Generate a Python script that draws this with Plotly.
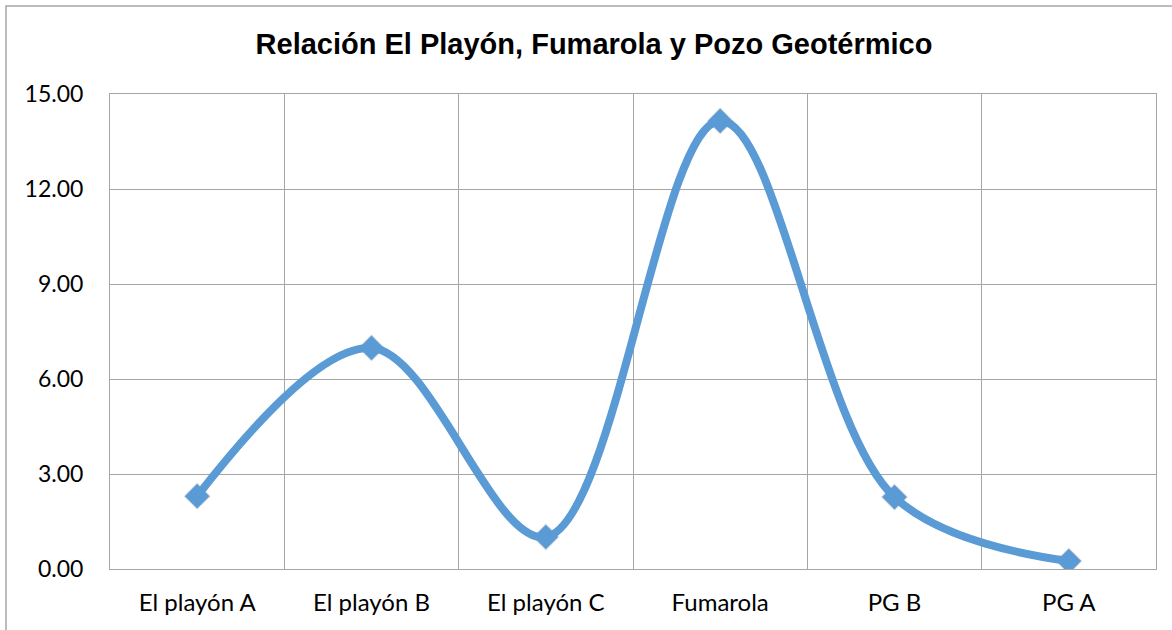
import plotly.graph_objects as go

categories = ["El playón A", "El playón B", "El playón C", "Fumarola", "PG B", "PG A"]
values = [2.30, 6.98, 1.01, 14.15, 2.27, 0.25]
y_ticks = [0, 3, 6, 9, 12, 15]

line_color = "#5B9BD5"
grid_color = "#A6A6A6"

fig = go.Figure()
# soft shadow under the markers
fig.add_trace(go.Scatter(
    x=categories, y=values, mode="markers",
    marker=dict(symbol="diamond", size=21, color="rgba(60,60,60,0.16)", line=dict(width=0)),
    hoverinfo="skip", showlegend=False,
))
fig.add_trace(go.Scatter(
    x=categories, y=values, mode="lines+markers",
    line=dict(color=line_color, width=8, shape="spline", smoothing=1.0),
    marker=dict(symbol="diamond", size=19, color=line_color, line=dict(width=0)),
    showlegend=False,
))

fig.update_layout(
    width=1172, height=630,
    margin=dict(l=110, r=16, t=94, b=61),
    paper_bgcolor="white", plot_bgcolor="white",
    title=dict(
        text="Relación El Playón, Fumarola y Pozo Geotérmico",
        x=594 / 1172, xanchor="center", xref="container",
        y=1 - 44 / 630, yanchor="middle", yref="container",
        font=dict(family="Arial", size=29, color="#000000", weight="bold"),
    ),
    font=dict(family="Lato", size=24, color="#000000"),
    xaxis=dict(
        type="category", tickson="boundaries", showgrid=True, gridcolor=grid_color, gridwidth=1,
        showline=True, linecolor=grid_color, linewidth=1, mirror=True,
        ticks="", ticklabelstandoff=12, range=[-0.5, 5.5],
    ),
    yaxis=dict(
        range=[0, 15], tickvals=y_ticks, tickformat=".2f",
        showgrid=True, gridcolor=grid_color, gridwidth=1,
        showline=True, linecolor=grid_color, linewidth=1, mirror=True,
        ticks="", ticklabelstandoff=21, zeroline=False,
        tickfont=dict(size=23),
    ),
    shapes=[dict(
        type="rect", xref="paper", yref="paper",
        x0=(6 - 110) / 1046, x1=(1180 - 110) / 1046,
        y0=-(640 - 569) / 475, y1=1 + (94 - 6) / 475,
        line=dict(color="#A6A6A6", width=1.5), fillcolor="rgba(0,0,0,0)", layer="below",
    )],
)

fig.write_html("out.html")
